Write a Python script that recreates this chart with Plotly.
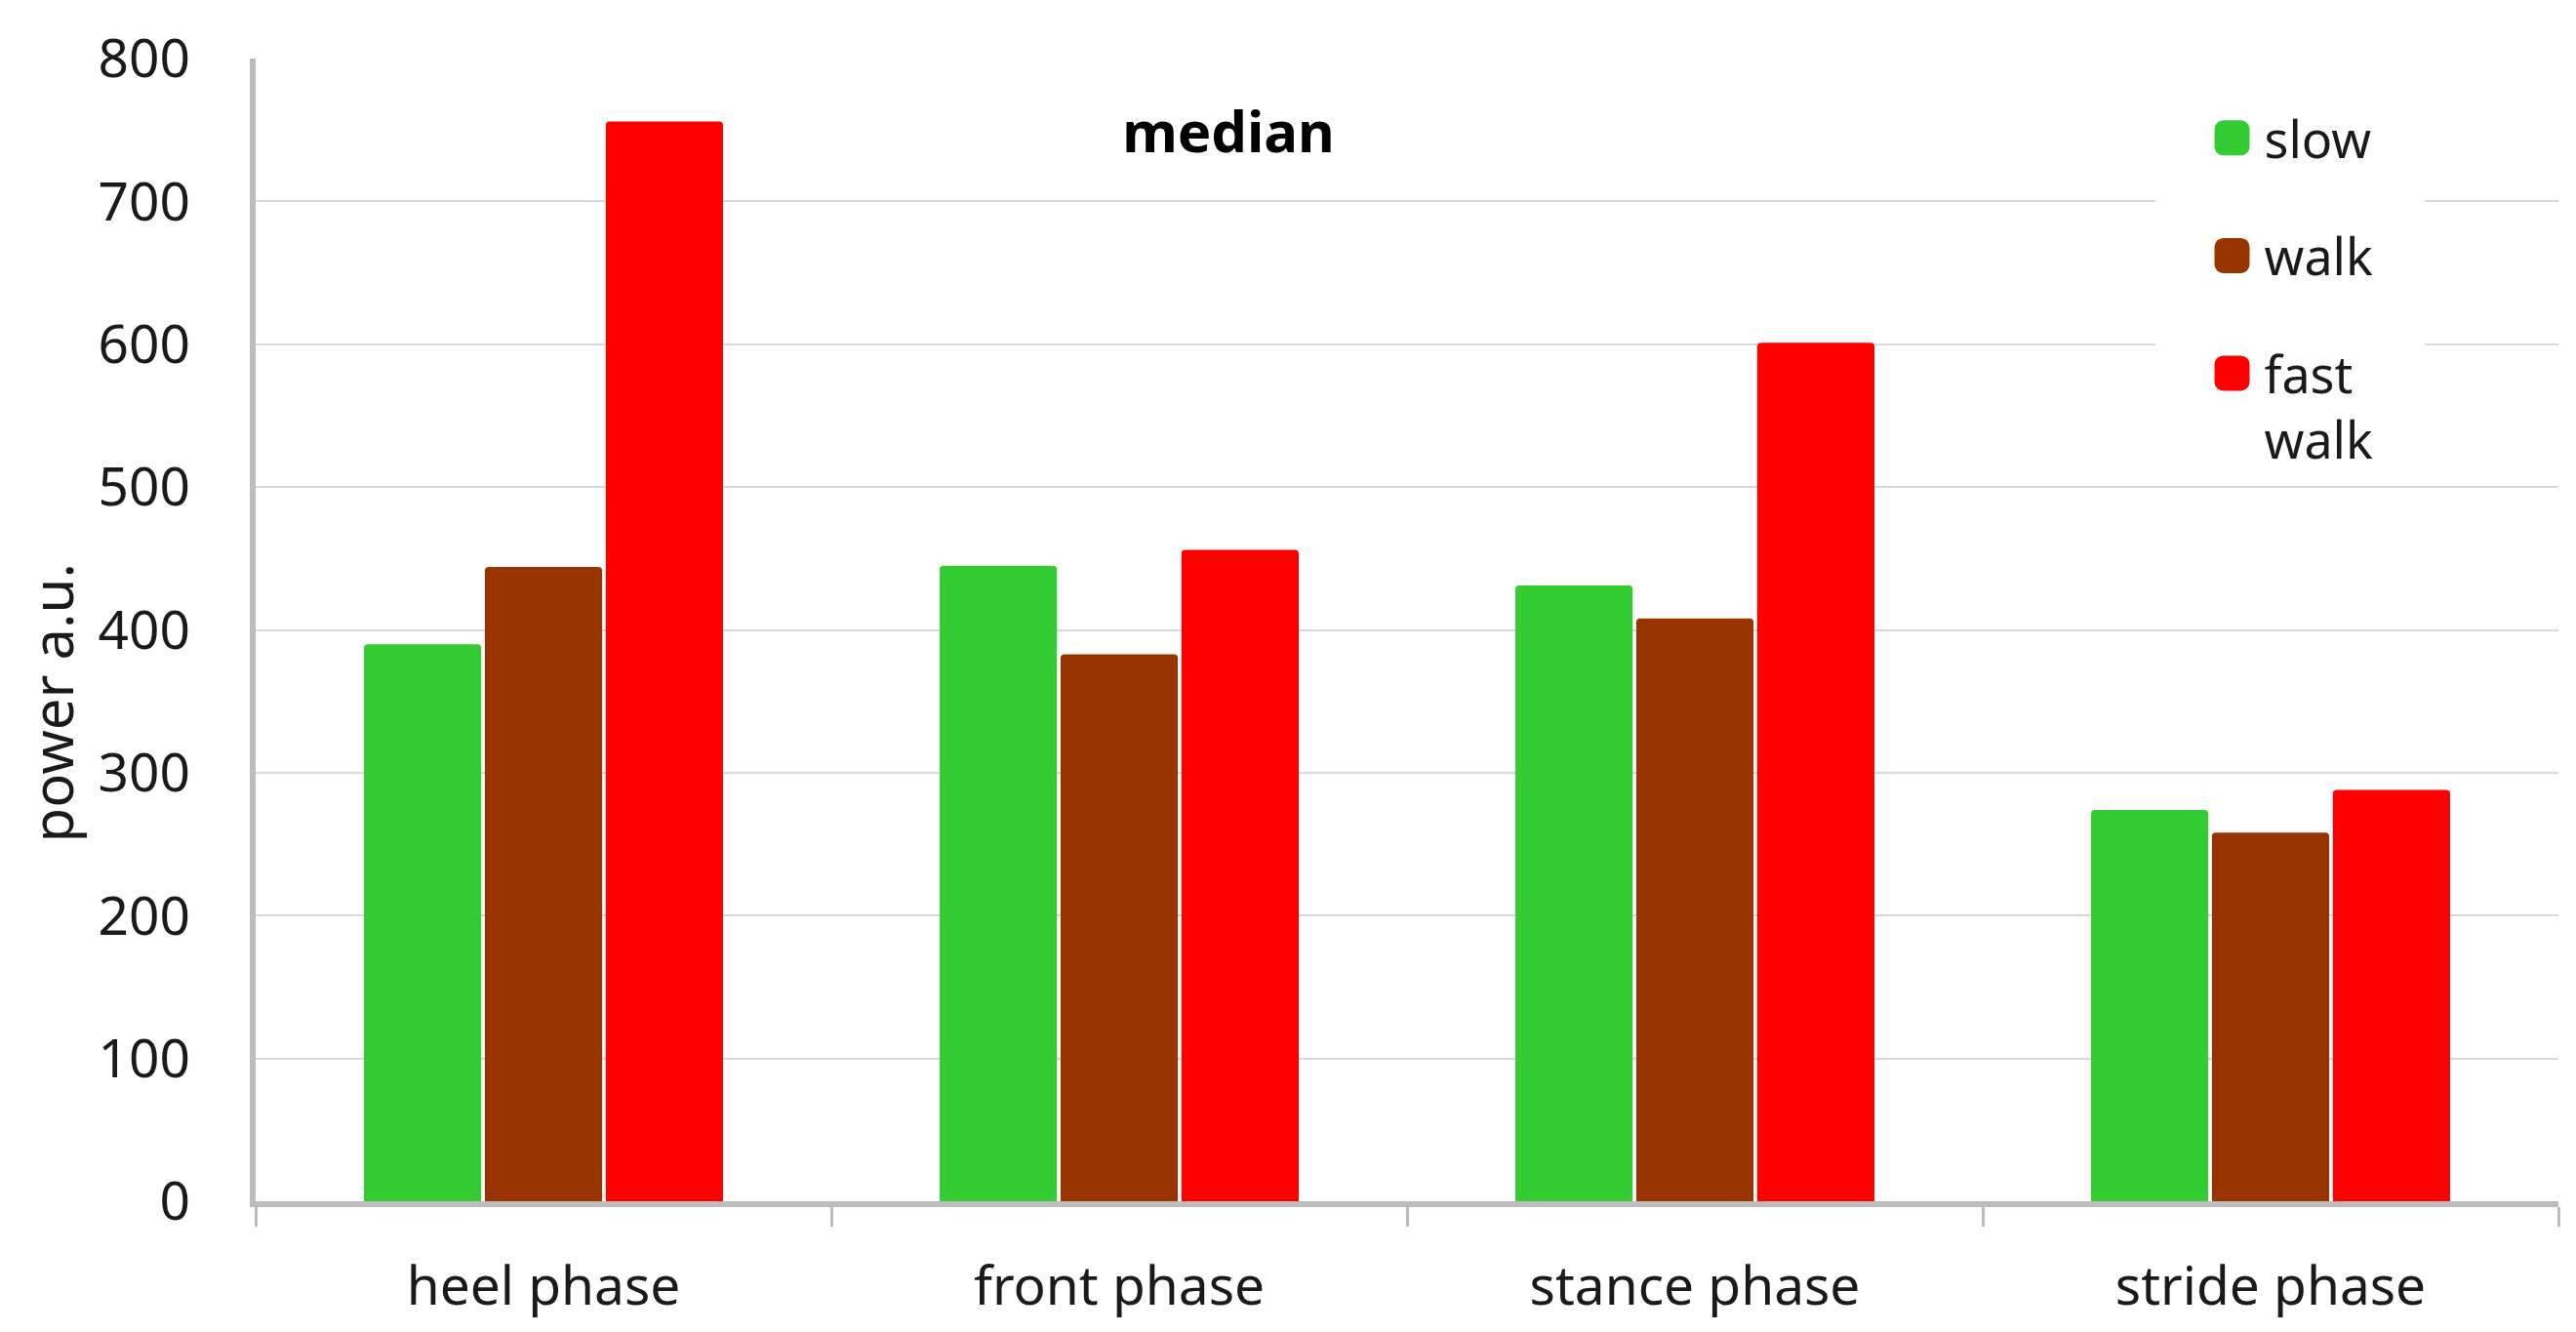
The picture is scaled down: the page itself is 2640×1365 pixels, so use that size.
import plotly.graph_objects as go

categories = ["heel phase", "front phase", "stance phase", "stride phase"]
series_names = ["slow", "walk", "fast<br>walk"]
slow = [390, 445, 431, 274]
walk = [444, 383, 408, 258]
fast_walk = [756, 456, 601, 288]
colors = ["#33cc33", "#993300", "#ff0000"]
y_ticks = [0, 100, 200, 300, 400, 500, 600, 700, 800]

FONT = "Noto Sans"
TXT = "#1a1a1a"

fig = go.Figure()
for name, vals, col in zip(series_names, [slow, walk, fast_walk], colors):
    fig.add_trace(go.Bar(
        x=categories, y=vals, name=name, legendgroup=name,
        marker=dict(color=col, line=dict(width=0), cornerradius=4),
    ))

fig.update_layout(
    width=2632, height=1357,
    margin=dict(l=254, r=18, t=49, b=130),
    paper_bgcolor="white", plot_bgcolor="white",
    barmode="group", bargap=0.37, bargroupgap=0.03,
    font=dict(family=FONT, color=TXT),
    title=dict(text="<b>median</b>", font=dict(size=58, family=FONT, color="#000000"),
               x=0.4753, y=0.906, xref="container", yref="container",
               xanchor="center", yanchor="middle"),
    legend=dict(font=dict(size=52, family=FONT, color=TXT), bgcolor="white",
                x=0.8553, y=0.965, xanchor="left", yanchor="top",
                tracegroupgap=50, valign="top", borderwidth=0),
    showlegend=True,
)
fig.update_xaxes(
    showline=True, linecolor="#bcbcbc", linewidth=6,
    ticks="outside", tickson="boundaries", ticklen=20, tickwidth=3, tickcolor="#bcbcbc",
    tickfont=dict(size=55, family=FONT, color=TXT), showgrid=False,
    ticklabelstandoff=34,
)
fig.update_yaxes(
    range=[0, 800], tickvals=y_ticks, showgrid=True, gridcolor="#d9d9d9", gridwidth=2,
    showline=True, linecolor="#bcbcbc", linewidth=6, zeroline=False,
    ticks="", tickfont=dict(size=55, family=FONT, color=TXT), ticklabelstandoff=50,
)
fig.add_annotation(
    text="power a.u.", textangle=-90, xref="paper", yref="paper",
    x=-0.089, y=0.436, xanchor="center", yanchor="middle", showarrow=False,
    font=dict(size=58, family=FONT, color=TXT),
)

post = """
document.querySelectorAll('.legend [clip-path]').forEach(function(e){
  e.removeAttribute('clip-path');
});
document.querySelectorAll('.legendpoints path').forEach(function(p){
  var t = p.getAttribute('transform') || '';
  p.setAttribute('transform', t + ' translate(-13,0) scale(3)');
});
var bg = document.querySelector('.legend rect.bg');
if (bg) {
  var x0 = parseFloat(bg.getAttribute('x') || 0);
  bg.setAttribute('x', x0 - 72);
  bg.setAttribute('width', 276);
}
"""
fig.write_html("out.html", post_script=post)
